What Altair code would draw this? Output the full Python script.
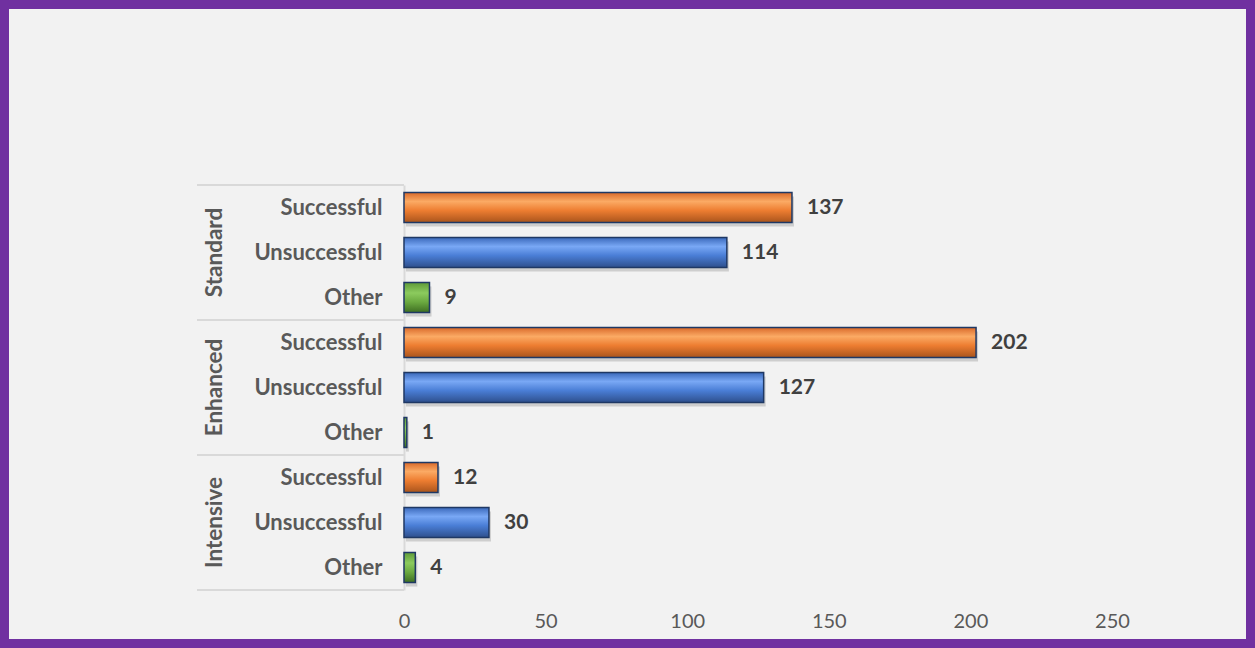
import altair as alt
import pandas as pd

groups = ["Standard", "Standard", "Standard",
          "Enhanced", "Enhanced", "Enhanced",
          "Intensive", "Intensive", "Intensive"]
outcomes = ["Successful", "Unsuccessful", "Other"] * 3
values = [137, 114, 9, 202, 127, 1, 12, 30, 4]
x_ticks = [0, 50, 100, 150, 200, 250]
group_names = ["Standard", "Enhanced", "Intensive"]

df = pd.DataFrame({"group": groups, "outcome": outcomes, "value": values})
df["key"] = df["group"] + "|" + df["outcome"]
order = list(df["key"])

FONT = "Lato"
W, H = 708, 405

yenc = alt.Y("key:N", sort=order,
             scale=alt.Scale(domain=order, paddingInner=0.33, paddingOuter=0.165),
             axis=alt.Axis(title=None, labelExpr="split(datum.label, '|')[1]",
                           labelFont=FONT, labelFontSize=22, labelFontWeight="bold",
                           labelColor="#595959", labelPadding=22, ticks=False,
                           domain=True, domainColor="#D9D9D9", domainWidth=2))
xenc = alt.X("value:Q", scale=alt.Scale(domain=[0, 250], nice=False),
             axis=alt.Axis(title=None, values=x_ticks, grid=False, ticks=False,
                           domain=False, labelFont=FONT, labelFontSize=20,
                           labelColor="#595959", labelPadding=21, labelFlush=False))

def grad(stops):
    return alt.LinearGradient(gradient="linear", x1=0, x2=0, y1=0, y2=1,
                              stops=[alt.GradientStop(color=c, offset=o) for o, c in stops])

fills = {
    "Successful": grad([(0, "#D9692A"), (0.3, "#FBAA64"), (0.6, "#ED7D31"), (1, "#A9541C")]),
    "Unsuccessful": grad([(0, "#3A68BA"), (0.3, "#79A8F5"), (0.6, "#4A7ED6"), (1, "#2E4F8C")]),
    "Other": grad([(0, "#5E9A38"), (0.35, "#8CCB5E"), (0.65, "#6BA940"), (1, "#3E6E22")]),
}

base = alt.Chart(df)

shadow = base.mark_bar(color="#000000", opacity=0.15, yOffset=4, xOffset=2).encode(y=yenc, x=xenc)

bars = [
    base.transform_filter(alt.datum.outcome == o)
    .mark_bar(color=fills[o], stroke="#1F3864", strokeWidth=1.5)
    .encode(y=yenc, x=xenc)
    for o in ["Successful", "Unsuccessful", "Other"]
]

labels = base.mark_text(align="left", baseline="middle", dx=15, font=FONT,
                        fontSize=21, fontWeight="bold", color="#404040").encode(
    y=yenc, x=xenc, text="value:Q")

firsts = df[df["outcome"] == "Successful"]
lasts = df.tail(1)
sep_top = alt.Chart(firsts).mark_rule(color="#D9D9D9", strokeWidth=2, yOffset=-22.5).encode(
    y=alt.Y("key:N", sort=order), x=alt.value(-207), x2=alt.value(0))
sep_bot = alt.Chart(lasts).mark_rule(color="#D9D9D9", strokeWidth=2, yOffset=22.5).encode(
    y=alt.Y("key:N", sort=order), x=alt.value(-207), x2=alt.value(0))

mids = df[df["outcome"] == "Unsuccessful"]
glabels = alt.Chart(mids).mark_text(angle=270, align="center", baseline="middle", font=FONT,
                                    fontSize=22.5, fontWeight="bold", color="#595959").encode(
    y=alt.Y("key:N", sort=order), x=alt.value(-189), text="group:N")

frame = alt.Chart(pd.DataFrame({"a": [0]})).mark_rect(
    fill=None, fillOpacity=0, stroke="#7030A0", strokeWidth=9).encode(
    x=alt.value(-399.5), x2=alt.value(846.5), y=alt.value(-180.5), y2=alt.value(458.5))

chart = alt.layer(shadow, *bars, labels, sep_top, sep_bot, glabels, frame).properties(
    width=W, height=H, background="#F2F2F2",
    padding={"left": 404, "top": 185, "right": 143, "bottom": 58},
    autosize=alt.AutoSizeParams(type="none"),
).configure_view(stroke=None)

chart.save("out.html", embed_options={"renderer": "svg", "actions": False})
